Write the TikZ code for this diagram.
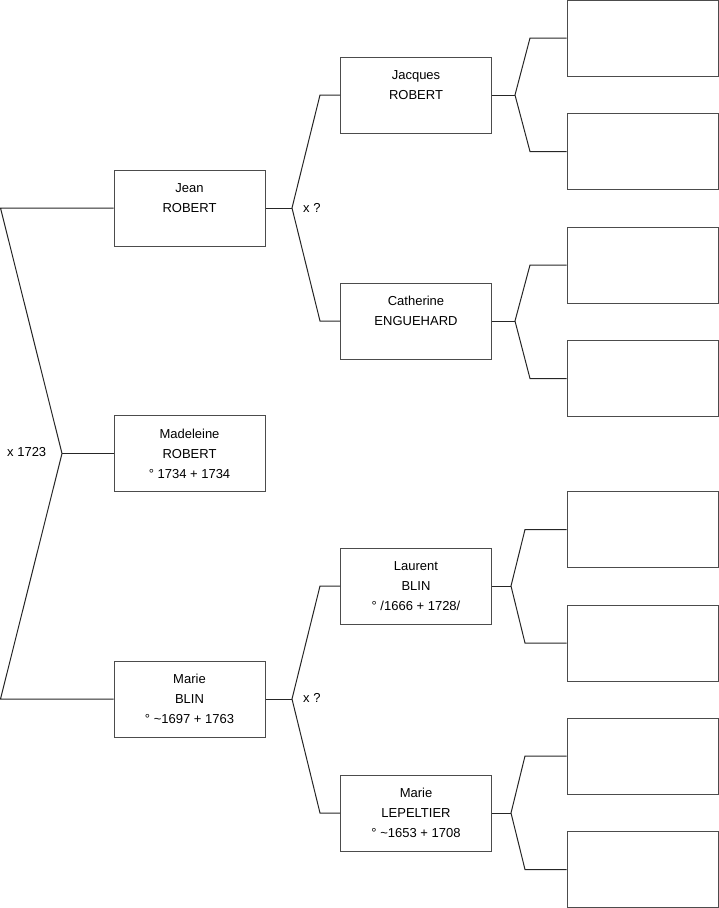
\documentclass[tikz,border=0pt]{standalone}
\usepackage{fontspec}
\setmainfont{Liberation Sans}
\begin{document}
\begin{tikzpicture}[x=1pt,y=-1pt,
  box/.style={draw=black!70, line width=1pt, minimum width=151pt, minimum height=76pt,
    inner sep=0pt, align=center, font=\fontsize{13}{20}\selectfont, text=black},
  conn/.style={draw=black!85, line width=1pt},
  lbl/.style={font=\fontsize{13}{16}\selectfont, inner sep=0pt, text=black}]
\useasboundingbox (0,0) rectangle (719,908);
% generation 1
\node[box] (jean) at (189.5,208) {Jean\\ROBERT\\\mbox{}};
\node[box] (madeleine) at (189.5,453.5) {Madeleine\\ROBERT\\° 1734 + 1734};
\node[box] (marie) at (189.5,699) {Marie\\BLIN\\° \textasciitilde1697 + 1763};
% generation 2
\node[box] (jacques) at (416,95) {Jacques\\ROBERT\\\mbox{}};
\node[box] (catherine) at (416,321) {Catherine\\ENGUEHARD\\\mbox{}};
\node[box] (laurent) at (416,586) {Laurent\\BLIN\\° /1666 + 1728/};
\node[box] (lepeltier) at (416,813) {Marie\\LEPELTIER\\° \textasciitilde1653 + 1708};
% generation 3 (empty)
\node[box] (e1) at (642.5,38) {};
\node[box] (e2) at (642.5,151.5) {};
\node[box] (e3) at (642.5,265) {};
\node[box] (e4) at (642.5,378.5) {};
\node[box] (e5) at (642.5,529.5) {};
\node[box] (e6) at (642.5,643) {};
\node[box] (e7) at (642.5,756) {};
\node[box] (e8) at (642.5,869.5) {};
% coordinates
\coordinate (l1) at (0.5,208);
\coordinate (v0) at (62,453.5);
\coordinate (l2) at (0.5,699);
\coordinate (v1) at (292,208);
\coordinate (a1) at (320,95);
\coordinate (a2) at (320,321);
\coordinate (v2) at (292,699);
\coordinate (b1) at (320,586);
\coordinate (b2) at (320,813);
\coordinate (v3) at (515,95);
\coordinate (c1) at (530,38);
\coordinate (c2) at (530,151.5);
\coordinate (v4) at (515,321);
\coordinate (d1) at (530,265);
\coordinate (d2) at (530,378.5);
\coordinate (v5) at (511,586);
\coordinate (g1) at (525,529.5);
\coordinate (g2) at (525,643);
\coordinate (v6) at (511,813);
\coordinate (h1) at (525,756);
\coordinate (h2) at (525,869.5);
% connectors
\draw[conn] (jean.west) -- (l1) -- (v0) -- (l2) -- (marie.west);
\draw[conn] (v0) -- (madeleine.west);
\draw[conn] (jean.east) -- (v1);
\draw[conn] (jacques.west) -- (a1) -- (v1) -- (a2) -- (catherine.west);
\draw[conn] (marie.east) -- (v2);
\draw[conn] (laurent.west) -- (b1) -- (v2) -- (b2) -- (lepeltier.west);
\draw[conn] (jacques.east) -- (v3);
\draw[conn] (e1.west) -- (c1) -- (v3) -- (c2) -- (e2.west);
\draw[conn] (catherine.east) -- (v4);
\draw[conn] (e3.west) -- (d1) -- (v4) -- (d2) -- (e4.west);
\draw[conn] (laurent.east) -- (v5);
\draw[conn] (e5.west) -- (g1) -- (v5) -- (g2) -- (e6.west);
\draw[conn] (lepeltier.east) -- (v6);
\draw[conn] (e7.west) -- (h1) -- (v6) -- (h2) -- (e8.west);
% labels
\node[lbl, anchor=west] (m0) at (7,452) {x 1723};
\node[lbl, anchor=west] (m1) at (303,208) {x ?};
\node[lbl, anchor=west] (m2) at (303,698) {x ?};
\end{tikzpicture}
\end{document}
